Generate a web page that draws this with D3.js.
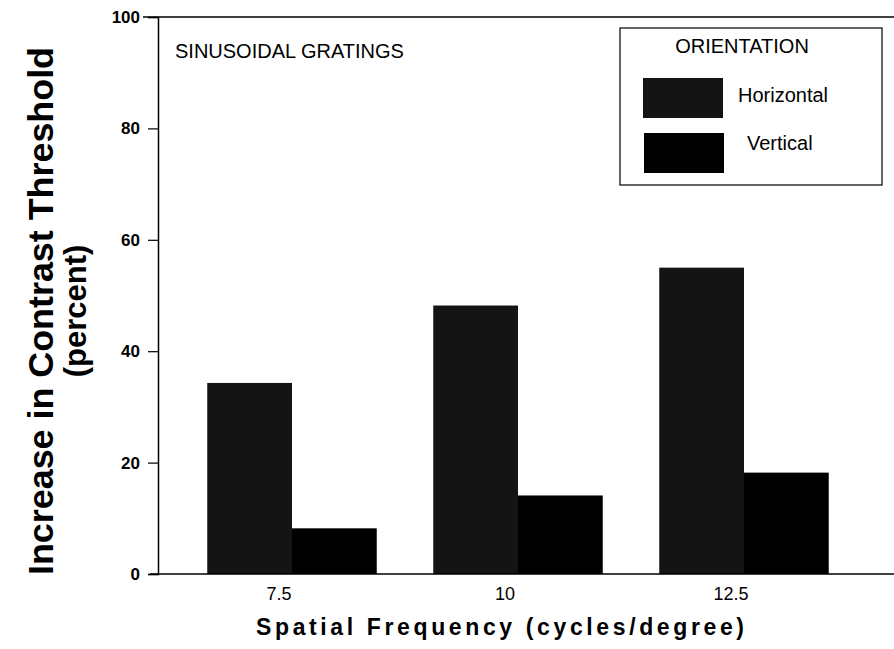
<!doctype html>
<html lang="en">
<head>
<meta charset="utf-8">
<script src="https://d3js.org/d3.v7.min.js"></script>
<style>
  body { margin: 0; background: #fff; }
  svg { display: block; font-family: "Liberation Sans", Arial, sans-serif; }
</style>
</head>
<body>
<svg id="chart" width="894" height="649"></svg>
<script>
  // data
  const frequencies = ["7.5", "10", "12.5"];
  const orientations = ["Horizontal", "Vertical"];
  const horizontal = [34.3, 48.2, 55.0];
  const vertical = [8.2, 14.1, 18.2];
  const yTicks = [0, 20, 40, 60, 80, 100];
  const colors = {Horizontal: "#141414", Vertical: "#000"};

  const svg = d3.select("#chart");
  const plotLeft = 158, plotRight = 894, plotTop = 17, plotBottom = 574;

  const y = d3.scaleLinear().domain([0, 100]).range([plotBottom, plotTop]);
  const x0 = d3.scaleBand().domain(frequencies).range([179, 857])
      .paddingInner(0.25).paddingOuter(0.125);
  const x1 = d3.scaleBand().domain(orientations).range([0, x0.bandwidth()]);

  const rows = frequencies.map((f, i) => ({freq: f, Horizontal: horizontal[i], Vertical: vertical[i]}));

  // bars
  svg.append("g").selectAll("g").data(rows).join("g")
      .attr("transform", d => "translate(" + x0(d.freq) + ",0)")
    .selectAll("rect").data(d => orientations.map(o => ({key: o, value: d[o]}))).join("rect")
      .attr("x", d => x1(d.key))
      .attr("y", d => y(d.value))
      .attr("width", x1.bandwidth())
      .attr("height", d => y(0) - y(d.value))
      .attr("fill", d => colors[d.key]);

  // y axis
  const yAxis = svg.append("g").attr("transform", "translate(" + plotLeft + ",0)")
      .call(d3.axisLeft(y).tickValues(yTicks).tickSize(10).tickPadding(8));
  yAxis.select(".domain").attr("stroke", "#000").attr("stroke-width", 1.5);
  yAxis.selectAll(".tick line").attr("stroke-width", 1.2);
  yAxis.selectAll(".tick text").attr("font-weight", "bold").attr("font-size", 17)
      .attr("fill", "#000").attr("font-family", "Liberation Sans, Arial, sans-serif");

  // x axis (labels sit a little left of the group centre)
  const xAxis = svg.append("g").attr("transform", "translate(0," + plotBottom + ")")
      .call(d3.axisBottom(x0).tickSize(0).tickPadding(13));
  xAxis.select(".domain").remove();
  xAxis.selectAll(".tick text").attr("dx", -13).attr("font-size", 18)
      .attr("fill", "#000").attr("font-family", "Liberation Sans, Arial, sans-serif");
  svg.append("line").attr("x1", 150).attr("x2", plotRight).attr("y1", plotBottom).attr("y2", plotBottom)
      .attr("stroke", "#000").attr("stroke-width", 1.5);
  svg.append("line").attr("x1", 143).attr("x2", plotRight).attr("y1", plotTop).attr("y2", plotTop)
      .attr("stroke", "#000").attr("stroke-width", 1.5);

  // titles
  svg.append("text").attr("transform", "translate(53,311) rotate(-90)")
      .attr("text-anchor", "middle").attr("font-weight", "bold").attr("font-size", 35)
      .attr("textLength", 528).attr("lengthAdjust", "spacingAndGlyphs")
      .text("Increase in Contrast Threshold");
  svg.append("text").attr("transform", "translate(86,311) rotate(-90)")
      .attr("text-anchor", "middle").attr("font-weight", "bold").attr("font-size", 31)
      .text("(percent)");
  svg.append("text").attr("x", 500).attr("y", 635)
      .attr("text-anchor", "middle").attr("font-weight", "bold").attr("font-size", 23)
      .attr("textLength", 488).attr("lengthAdjust", "spacing")
      .text("Spatial Frequency (cycles/degree)");
  svg.append("text").attr("x", 175).attr("y", 58).attr("font-size", 20)
      .text("SINUSOIDAL GRATINGS");

  // legend
  const legend = svg.append("g");
  legend.append("rect").attr("x", 620).attr("y", 28).attr("width", 262).attr("height", 157)
      .attr("fill", "#fff").attr("stroke", "#000").attr("stroke-width", 1.2);
  legend.append("text").attr("x", 742).attr("y", 53).attr("text-anchor", "middle")
      .attr("font-size", 20).text("ORIENTATION");
  const ly = d3.scalePoint().domain(orientations).range([78, 133]);
  legend.selectAll(".sw").data(orientations).join("rect")
      .attr("x", (d, i) => 643 + i)
      .attr("y", d => ly(d))
      .attr("width", 80).attr("height", 40).attr("fill", d => colors[d]);
  legend.selectAll(".lb").data(orientations).join("text")
      .attr("x", (d, i) => 738 + i * 9)
      .attr("y", (d, i) => ly(d) + 24 - i * 7)
      .attr("font-size", 20).text(d => d);
</script>
</body>
</html>
